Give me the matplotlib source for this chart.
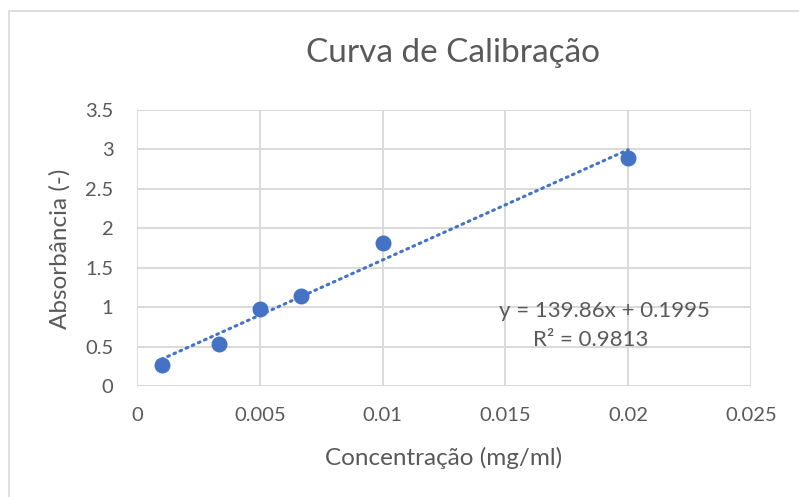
import matplotlib.pyplot as plt
from matplotlib.patches import Rectangle
from matplotlib.ticker import MultipleLocator, FuncFormatter
import numpy as np

# data
concentracao = [0.001, 0.00333, 0.005, 0.00667, 0.01, 0.02]
absorbancia = [0.266, 0.533, 0.976, 1.14, 1.81, 2.89]
slope = 139.86
intercept = 0.1995
r2 = 0.9813

plt.rcParams['font.family'] = ['Lato', 'DejaVu Sans']
gray = '#595959'
blue = '#4472C4'

W, H = 799, 497
fig = plt.figure(figsize=(W / 100, H / 100), dpi=100)
ax = fig.add_axes([137 / W, 1 - 386 / H, (751 - 137) / W, (386 - 110) / H])

# chart area border (left and top only visible)
fig.patches.append(Rectangle((8.5 / W, -0.1), 1.2, 1 - 11 / H + 0.1,
                             transform=fig.transFigure, fill=False,
                             edgecolor='#d9d9d9', lw=1.2))

# trendline
xt = np.array([min(concentracao), max(concentracao)])
ax.plot(xt, slope * xt + intercept, ls=(0, (0.6, 1.6)), lw=2.2,
        color=blue, dash_capstyle='round', zorder=3)
ax.plot(concentracao, absorbancia, 'o', ms=10.5, color=blue, zorder=4)

ax.set_xlim(0, 0.025)
ax.set_ylim(0, 3.5)
ax.xaxis.set_major_locator(MultipleLocator(0.005))
ax.yaxis.set_major_locator(MultipleLocator(0.5))
ax.xaxis.set_major_formatter(FuncFormatter(lambda v, p: f'{v:g}'))
ax.yaxis.set_major_formatter(FuncFormatter(lambda v, p: f'{v:g}'))
ax.grid(True, color='#d9d9d9', lw=1.4)
ax.set_axisbelow(True)
for s in ax.spines.values():
    s.set_visible(False)
ax.tick_params(length=0, labelsize=14.5, labelcolor=gray)
ax.tick_params(axis='y', pad=17)
ax.tick_params(axis='x', pad=15)

fig.text(453 / W, 1 - 53 / H, 'Curva de Calibração', fontsize=24, color=gray,
         ha='center', va='center')
fig.text(444 / W, 1 - 458 / H, 'Concentração (mg/ml)', fontsize=17.5, color=gray,
         ha='center', va='center')
fig.text(60 / W, 1 - 249 / H, 'Absorbância (-)', fontsize=17.5, color=gray,
         ha='center', va='center', rotation=90)

ax.text(0.01902, 0.951, f'y = {slope}x + {intercept}', fontsize=16, color=gray,
        ha='center', va='center')
ax.text(0.01846, 0.583, f'R² = {r2}', fontsize=16, color=gray,
        ha='center', va='center')

plt.savefig('out.png', dpi=100)
